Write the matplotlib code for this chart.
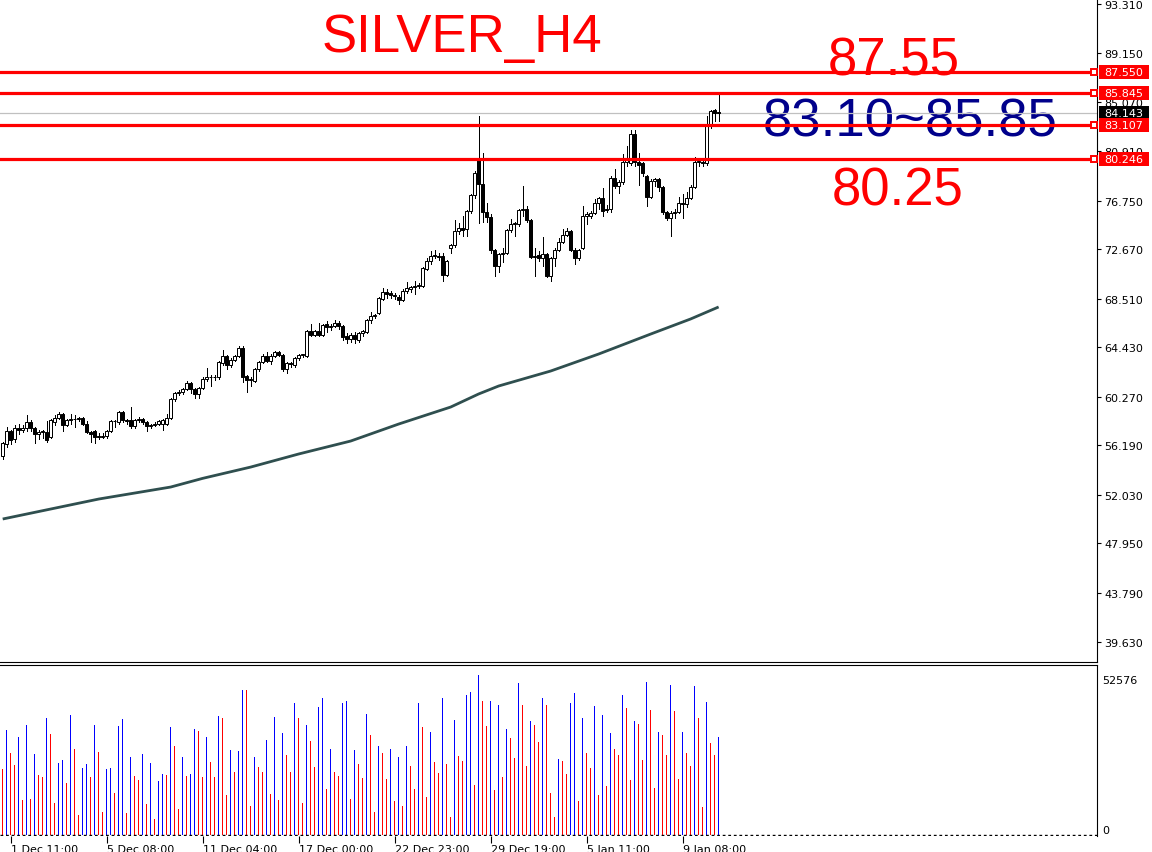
import matplotlib
matplotlib.use("Agg")
import matplotlib.pyplot as plt
import matplotlib.transforms as mtransforms
from matplotlib.patches import Rectangle
import numpy as np

# ---------------- data ----------------
opens = [55.3, 56.3, 57.4, 56.7, 57.6, 57.5, 57.6, 58.1, 57.6, 57.1,
         57.3, 57.3, 56.9, 58.1, 58.5, 58.8, 57.9, 58.3, 58.4, 58.4,
         58.5, 58.0, 57.3, 57.4, 57.0, 56.9, 57.0, 57.4, 58.2, 58.1,
         59.0, 58.3, 58.3, 57.8, 58.3, 58.4, 58.1, 57.8, 57.9, 58.0,
         58.0, 58.0, 58.5, 60.1, 60.6, 60.7, 60.9, 61.4, 60.9, 60.5,
         61.0, 61.8, 61.9, 61.9, 61.9, 63.1, 63.7, 62.9, 63.4, 63.7,
         64.4, 62.0, 61.7, 61.6, 62.6, 63.2, 63.7, 63.3, 63.7, 64.0,
         63.8, 62.6, 63.1, 62.9, 63.5, 63.8, 63.7, 65.8, 65.5, 65.8,
         65.5, 66.4, 66.1, 66.2, 66.5, 66.2, 65.4, 65.1, 65.5, 65.0,
         65.6, 65.7, 66.7, 67.1, 67.3, 68.5, 69.1, 69.0, 68.8, 68.7,
         68.4, 69.2, 69.3, 69.5, 69.6, 69.6, 71.0, 71.7, 72.1, 72.1,
         72.1, 70.5, 72.8, 73.0, 74.2, 74.5, 74.4, 75.9, 77.2, 80.3,
         78.2, 75.8, 75.4, 72.6, 71.3, 72.3, 72.4, 74.3, 74.8, 74.8,
         76.0, 76.1, 75.1, 72.0, 72.2, 71.9, 72.3, 70.4, 71.9, 72.6,
         73.3, 73.9, 74.2, 72.6, 71.9, 72.8, 75.5, 75.5, 75.7, 76.6,
         77.0, 76.1, 76.1, 78.7, 78.0, 78.3, 80.0, 79.9, 82.4, 80.0,
         79.9, 78.8, 77.1, 78.4, 78.6, 77.9, 75.8, 75.3, 75.7, 75.8,
         76.6, 76.5, 77.0, 77.9, 80.0, 80.0, 79.9, 83.1, 84.4, 84.2]
highs = [56.5, 57.7, 57.5, 57.9, 58.0, 57.9, 58.7, 58.3, 57.7, 57.5,
         57.5, 58.2, 58.4, 58.7, 59.0, 58.9, 58.4, 58.8, 58.7, 58.6,
         58.6, 58.2, 57.4, 57.5, 57.2, 57.2, 57.5, 58.3, 58.3, 59.1,
         59.1, 58.4, 59.4, 58.4, 58.6, 58.5, 58.2, 58.0, 58.1, 58.3,
         58.4, 58.8, 60.2, 60.7, 60.8, 61.0, 61.6, 61.5, 61.0, 61.1,
         61.9, 62.7, 62.1, 62.1, 63.3, 64.2, 63.8, 63.5, 63.8, 64.5,
         64.5, 62.1, 61.9, 62.7, 63.3, 63.9, 64.0, 63.9, 64.1, 64.1,
         63.9, 63.2, 63.2, 63.6, 63.9, 63.9, 65.9, 66.4, 65.9, 66.5,
         66.4, 66.6, 66.4, 66.7, 66.6, 66.3, 65.6, 65.6, 65.7, 65.7,
         65.9, 66.8, 67.4, 67.2, 68.7, 69.4, 69.3, 69.2, 69.0, 68.8,
         69.3, 69.9, 69.6, 70.0, 69.8, 71.2, 71.9, 72.5, 72.6, 72.4,
         72.4, 71.8, 73.1, 75.1, 74.9, 75.5, 76.0, 77.3, 79.3, 83.9,
         80.8, 76.6, 75.6, 72.7, 72.4, 72.8, 74.4, 75.2, 75.0, 76.1,
         78.0, 76.3, 75.2, 72.8, 72.5, 73.7, 72.4, 72.0, 72.8, 73.6,
         74.4, 74.5, 74.3, 72.8, 72.7, 76.3, 75.8, 75.9, 76.9, 77.1,
         77.8, 76.4, 78.8, 79.4, 78.5, 80.7, 81.4, 82.7, 82.7, 80.8,
         80.0, 78.9, 78.6, 78.7, 78.7, 78.0, 75.9, 75.9, 76.1, 77.1,
         77.3, 77.5, 78.1, 80.4, 80.3, 80.3, 83.9, 84.4, 84.5, 85.8]
lows = [55.0, 56.0, 56.3, 56.5, 57.1, 57.3, 57.4, 57.4, 56.4, 56.7,
        56.8, 56.5, 56.8, 57.9, 58.4, 57.4, 57.8, 58.0, 57.7, 58.2,
        57.9, 57.2, 56.5, 56.4, 56.7, 56.8, 56.8, 57.3, 57.7, 58.0,
        58.1, 58.0, 57.6, 57.6, 58.1, 58.0, 57.4, 57.6, 57.8, 57.9,
        57.5, 57.9, 58.4, 59.9, 60.4, 60.5, 60.8, 60.6, 60.2, 60.2,
        60.9, 61.6, 61.2, 61.7, 61.8, 62.9, 62.6, 62.8, 63.3, 63.6,
        61.5, 60.7, 61.2, 61.5, 62.4, 63.1, 63.2, 63.0, 63.6, 63.7,
        62.4, 62.3, 62.8, 62.8, 63.4, 63.6, 63.6, 65.4, 65.4, 65.4,
        65.4, 65.7, 65.9, 66.1, 66.0, 65.0, 64.8, 64.9, 64.8, 64.9,
        65.4, 65.6, 66.5, 66.9, 67.2, 68.4, 68.6, 68.6, 68.5, 68.1,
        68.3, 69.0, 69.1, 68.9, 69.4, 69.5, 70.9, 71.4, 71.9, 71.8,
        70.0, 70.4, 72.4, 72.9, 74.0, 73.8, 73.8, 75.7, 77.0, 74.9,
        75.0, 75.0, 72.4, 70.4, 70.8, 71.6, 72.3, 74.1, 73.8, 74.6,
        75.5, 75.0, 71.9, 70.4, 71.7, 71.3, 70.3, 70.0, 71.3, 72.5,
        73.2, 73.8, 72.5, 71.4, 71.8, 72.7, 74.8, 75.3, 75.6, 76.1,
        75.5, 75.8, 75.8, 77.8, 77.4, 78.2, 79.7, 79.8, 79.7, 78.1,
        78.8, 76.3, 77.0, 78.0, 77.6, 75.6, 75.1, 73.8, 75.3, 75.7,
        75.3, 76.2, 76.9, 77.8, 79.7, 79.7, 79.8, 82.9, 83.5, 83.5]
closes = [56.4, 57.4, 56.6, 57.6, 57.5, 57.6, 58.1, 57.6, 57.1, 57.3,
          57.35, 56.6, 58.3, 58.5, 58.8, 57.9, 58.3, 58.4, 58.4, 58.5,
          58.0, 57.3, 57.1, 56.9, 56.9, 57.0, 57.4, 58.2, 58.2, 59.0,
          58.3, 58.2, 57.8, 58.3, 58.4, 58.1, 57.8, 57.9, 58.0, 58.2,
          58.3, 58.5, 60.1, 60.6, 60.7, 60.9, 61.4, 60.9, 60.5, 61.0,
          61.8, 61.95, 61.9, 61.95, 63.2, 63.7, 62.9, 63.4, 63.7, 64.4,
          61.9, 61.7, 61.8, 62.6, 63.2, 63.7, 63.3, 63.7, 64.0, 63.8,
          62.6, 63.1, 63.0, 63.5, 63.8, 63.85, 65.8, 65.5, 65.8, 65.5,
          66.3, 66.1, 66.2, 66.5, 66.2, 65.3, 65.1, 65.5, 65.1, 65.6,
          65.8, 66.7, 67.1, 67.15, 68.6, 69.1, 68.9, 68.8, 68.75, 68.4,
          69.2, 69.4, 69.5, 69.6, 69.65, 71.1, 71.7, 72.1, 72.2, 72.0,
          70.5, 71.7, 73.0, 74.2, 74.5, 74.3, 75.9, 77.2, 79.1, 78.2,
          75.8, 75.4, 72.6, 71.3, 72.3, 72.4, 74.3, 74.8, 74.85, 76.0,
          76.1, 75.1, 72.0, 72.1, 71.9, 72.3, 70.4, 71.9, 72.6, 73.3,
          73.9, 74.2, 72.6, 71.9, 72.6, 75.5, 75.6, 75.7, 76.6, 77.0,
          75.9, 76.0, 78.7, 78.0, 78.3, 80.0, 80.3, 82.4, 80.0, 79.8,
          79.1, 77.1, 78.4, 78.6, 77.9, 75.8, 75.3, 75.7, 75.8, 76.6,
          76.5, 77.0, 77.9, 80.0, 80.1, 79.9, 83.1, 84.3, 84.1, 84.14]
volumes = [21560, 34630, 26790, 22870, 32340, 11430, 36260, 11760, 26460, 19600,
           19170, 38550, 33320, 10450, 23520, 24610, 16990, 39530, 28420, 6530,
           22000, 23200, 18950, 36260, 27120, 7510, 21560, 21890, 13720, 35940,
           38220, 7190, 25480, 19280, 17970, 26460, 10130, 23520, 5230, 17640,
           19930, 19600, 35610, 29080, 8490, 25480, 19280, 19930, 34960, 34300,
           18950, 32340, 23850, 18950, 39200, 38550, 13070, 27770, 20580, 27440,
           47700, 47590, 9470, 25480, 22220, 20580, 31360, 13390, 38880, 11430,
           33650, 26140, 20580, 43450, 38550, 10450, 36260, 31040, 22220, 42140,
           45080, 15030, 28100, 20580, 19280, 43450, 44100, 11760, 27770, 23200,
           18620, 39860, 33000, 7510, 29080, 26790, 18300, 28100, 11110, 25480,
           9470, 29400, 22540, 15030, 43450, 35610, 12410, 33980, 23850, 20260,
           45080, 23200, 5880, 37900, 25810, 24180, 46060, 47040, 16340, 52576,
           44100, 35940, 44100, 14700, 42800, 18950, 34960, 32020, 25160, 49990,
           42800, 22540, 37570, 36260, 30710, 45080, 42800, 13720, 5880, 24830,
           24180, 19930, 43450, 46720, 11110, 38550, 26790, 21890, 42470, 13070,
           39530, 16010, 33650, 28100, 26140, 46060, 41820, 17970, 37570, 36590,
           24500, 50310, 41160, 15350, 33980, 33000, 26140, 49330, 40840, 18300,
           33980, 26790, 22540, 49010, 38550, 9150, 43780, 30380, 26140, 32340]

ma_bars = [0, 12, 24, 42, 50, 62, 74, 87, 99, 112, 119, 124, 137, 149, 162, 172, 179]
ma_values = [49.98, 50.82, 51.66, 52.67, 53.40, 54.35, 55.45, 56.54, 57.97, 59.40,
             60.50, 61.17, 62.43, 63.86, 65.54, 66.81, 67.82]

levels = [87.550, 85.845, 83.107, 80.246]
current_price = 84.143
price_ticks = [93.310, 89.150, 85.070, 80.910, 76.750, 72.670, 68.510, 64.430,
               60.270, 56.190, 52.030, 47.950, 43.790, 39.630]
date_tick_bars = [2, 26, 50, 74, 98, 122, 146, 170]
date_labels = ["1 Dec 11:00", "5 Dec 08:00", "11 Dec 04:00", "17 Dec 00:00",
               "22 Dec 23:00", "29 Dec 19:00", "5 Jan 11:00", "9 Jan 08:00"]
vol_max_label = 52576
title_text = "SILVER_H4"
upper_text = "87.55"
zone_text = "83.10~85.85"
lower_text = "80.25"

# ---------------- figure ----------------
W, H = 1152, 853
fig = plt.figure(figsize=(W / 100, H / 100), dpi=100)
fig.patch.set_facecolor("white")

axw = 1097 / W
ax = fig.add_axes([0, 1 - 663 / H, axw, 663 / H])
axv = fig.add_axes([0, 1 - 837 / H, axw, (837 - 666) / H])

n = len(closes)
idx = np.arange(n)
o = np.array(opens); c = np.array(closes); hi = np.array(highs); lo = np.array(lows)

# candles
ax.vlines(idx, lo, hi, color="black", lw=0.72, zorder=4, antialiased=False)
bottoms = np.minimum(o, c)
heights = np.abs(c - o)
face = ["white" if cc >= oo else "black" for oo, cc in zip(o, c)]
ax.bar(idx, heights, bottom=bottoms, width=0.62, color=face, edgecolor="black",
       linewidth=0.72, zorder=5)

# moving average
ax.plot(ma_bars, ma_values, color="#2F4F4F", lw=2.0, zorder=3,
        solid_capstyle="butt", solid_joinstyle="round")

# horizontal levels
ax.axhline(current_price, color="#C0C0C0", lw=0.9, zorder=2)
for lv in levels:
    ax.axhline(lv, color="#FF0000", lw=2.3, zorder=6)

xlim = (-0.675, 273.6)
ax.set_xlim(*xlim)
ax.set_ylim(37.95, 93.73)

# texts (under the lines)
def fpos(px, py):
    return px / W, 1 - py / H

big = dict(family="Liberation Sans", fontsize=38, ha="center", va="baseline",
           transform=fig.transFigure, zorder=1)
ax.text(*fpos(462, 52), title_text, color="#FF0000", **big)
ax.text(*fpos(894, 76), upper_text, color="#FF0000", **big)
ax.text(*fpos(910, 137), zone_text, color="#00008B", **big)
ax.text(*fpos(898, 206), lower_text, color="#FF0000", **big)

# spines/ticks main
for s in ["top", "left"]:
    ax.spines[s].set_visible(False)
ax.spines["right"].set_linewidth(0.8)
ax.spines["bottom"].set_linewidth(0.8)
ax.set_xticks([])
ax.yaxis.tick_right()
ax.set_yticks(price_ticks)
ax.set_yticklabels([f"{v:.3f}" for v in price_ticks])
ax.tick_params(axis="y", direction="out", length=3, width=0.8, labelsize=8, pad=2)

# price label boxes
tr = mtransforms.blended_transform_factory(ax.transAxes, ax.transData)
ppx = (93.73 - 37.95) / 663.0
box_x0 = 1099 / 1097
box_w = 50 / 1097
def price_box(val, color):
    ax.add_patch(Rectangle((box_x0, val - 7 * ppx), box_w, 14 * ppx, transform=tr,
                           facecolor=color, edgecolor="none", clip_on=False, zorder=10))
    ax.text(box_x0 + box_w / 2, val, f"{val:.3f}", transform=tr, ha="center",
            va="center", color="white", fontsize=8, clip_on=False, zorder=11)

price_box(current_price, "black")
for lv in levels:
    price_box(lv, "#FF0000")
    ax.plot([1093.5 / 1097], [lv], transform=tr, marker="s", ms=4.5, mfc="white",
            mec="#FF0000", mew=1.4, clip_on=False, zorder=9)

# ---------------- volume panel ----------------
vol = np.array(volumes)
vcolors = ["#FF0000"] + ["#0000FF" if vol[i] > vol[i - 1] else "#FF0000" for i in range(1, n)]
axv.bar(idx, vol, width=0.26, color=vcolors, linewidth=0, antialiased=False)
axv.axhline(0, color="black", lw=1.0, ls=(0, (2, 2)))
axv.set_xlim(*xlim)
axv.set_ylim(-330, 55860)
for s in ["left", "bottom"]:
    axv.spines[s].set_visible(False)
axv.spines["right"].set_linewidth(0.8)
axv.spines["top"].set_linewidth(0.8)
axv.yaxis.tick_right()
axv.set_yticks([0, vol_max_label])
axv.set_yticklabels(["0", str(vol_max_label)])
axv.tick_params(axis="y", direction="out", length=0, labelsize=8, pad=4)
ylabs = axv.get_yticklabels()
ylabs[0].set_va("bottom")
ylabs[1].set_va("top")
axv.set_xticks(date_tick_bars)
axv.set_xticklabels(date_labels)
axv.tick_params(axis="x", direction="out", length=5, width=0.8, labelsize=8, pad=1)
for lab in axv.get_xticklabels():
    lab.set_ha("left")

fig.savefig("out.png", dpi=100)
